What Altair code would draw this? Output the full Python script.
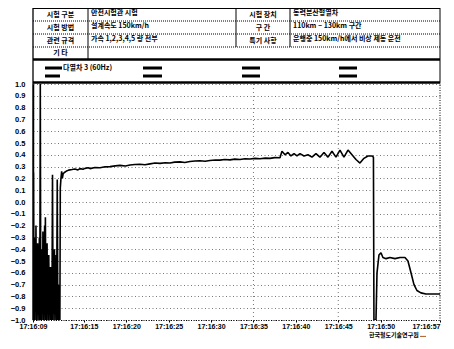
import altair as alt
import pandas as pd

# ---------------- data ----------------
t_sec = [
    0.00, 0.05, 0.10, 0.15, 0.20, 0.25, 0.30, 0.35, 0.40, 0.45,
    0.50, 0.55, 0.60, 0.65, 0.70, 0.75, 0.80, 0.86, 0.92, 0.97,
    1.02, 1.07, 1.12, 1.17, 1.22, 1.27, 1.32, 1.37, 1.42, 1.46,
    1.51, 1.56, 1.61, 1.66, 1.71, 1.76, 1.81, 1.86, 1.91, 1.96,
    2.01, 2.06, 2.11, 2.17, 2.23, 2.30, 2.37, 2.43, 2.48, 2.53,
    2.58, 2.63, 2.68, 2.73, 2.78, 2.86, 2.93, 2.99, 3.05, 3.12,
    3.17, 3.22, 3.30, 3.38, 3.46, 3.56, 3.70, 3.90, 4.20,
    4.6, 4.95, 5.3, 5.54, 5.9, 6.13, 6.5, 6.72, 7.3, 7.90,
    8.5, 9.08, 9.7, 10.26, 10.9, 11.44, 12.0, 12.62, 13.2, 13.80,
    14.4, 14.98, 15.6, 16.16, 16.7, 17.33, 17.9, 18.51, 19.1, 19.69,
    20.3, 20.87, 21.5, 22.05, 22.6, 23.23, 23.8, 24.41, 25.0, 25.59,
    26.2, 26.77, 27.4, 27.95, 28.5, 29.13,
    29.36, 29.72, 30.07, 30.42, 30.78, 31.13, 31.49, 31.96, 32.43, 32.90,
    33.37, 33.84, 34.32, 34.79, 35.26, 35.73, 36.20, 36.67, 37.15, 37.62,
    38.09, 38.56, 39.03, 39.50, 39.98, 40.15,
    40.21, 40.33, 40.45, 40.57, 40.80, 41.04, 41.27, 41.63, 42.10, 42.69,
    43.28, 43.87, 44.22, 44.58, 44.93, 45.28, 45.75, 46.34, 47.05, 48.00,
]
val = [
    -0.40, 0.25, -0.95, -0.30, -1.00, -0.45, -0.90, -0.20, -1.00, -0.50,
    -0.95, -0.35, -1.00, -0.55, -0.85, -0.30, -1.00, 1.00, -1.00, -0.60,
    -1.00, -0.40, -0.95, -0.25, -1.00, -0.55, -0.90, -0.20, -1.00, -0.13,
    -0.80, -0.40, -1.00, -0.35, -0.95, -0.50, -1.00, -0.45, -0.90, -0.60,
    -1.00, -0.55, -1.00, -0.55, -1.00, 0.23, -1.00, -0.50, -0.95, -0.40,
    -1.00, -0.60, -0.95, -0.45, -1.00, 0.19, -1.00, -0.70, -1.00, -0.85,
    -1.00, 0.12, 0.20, 0.26, 0.20, 0.24, 0.25, 0.26, 0.27,
    0.275, 0.28, 0.272, 0.283, 0.278, 0.285, 0.29, 0.283, 0.293, 0.29,
    0.298, 0.30, 0.306, 0.31, 0.305, 0.313, 0.318, 0.32, 0.315, 0.323,
    0.33, 0.327, 0.333, 0.33, 0.338, 0.34, 0.335, 0.343, 0.347, 0.35,
    0.345, 0.352, 0.356, 0.355, 0.36, 0.357, 0.363, 0.36, 0.366, 0.365,
    0.37, 0.367, 0.372, 0.37, 0.376, 0.375,
    0.43, 0.40, 0.42, 0.39, 0.41, 0.39, 0.41, 0.39, 0.40, 0.38,
    0.41, 0.38, 0.42, 0.38, 0.43, 0.38, 0.44, 0.38, 0.44, 0.40,
    0.36, 0.33, 0.37, 0.39, 0.39, 0.38,
    -1.00, -1.00, -1.00, -0.60, -0.45, -0.43, -0.47, -0.48, -0.47, -0.48,
    -0.47, -0.47, -0.50, -0.60, -0.70, -0.75, -0.77, -0.78, -0.78, -0.78,
]
assert len(t_sec) == len(val)

x_tick_secs = [0, 6, 11, 16, 21, 26, 31, 36, 41, 48]
x_tick_labels = ["17:16:09", "17:16:15", "17:16:20", "17:16:25", "17:16:30",
                 "17:16:35", "17:16:40", "17:16:45", "17:16:50", "17:16:57"]
y_ticks = [1.0, 0.9, 0.8, 0.7, 0.6, 0.5, 0.4, 0.3, 0.2, 0.1, 0.0,
           -0.1, -0.2, -0.3, -0.4, -0.5, -0.6, -0.7, -0.8, -0.9, -1.0]
vgrid_secs = [26, 36]

row_labels_left = ["시험 구분", "시험 방법", "관련 규격", "기     타"]
row_values_left = ["안전시험관 시험", "설계속도 150km/h", "가속 1,2,3,4,5 량 전부", ""]
row_labels_right = ["시험 장치", "구     간", "특기 사항"]
row_values_right = ["동력분산형열차", "110km ~ 130km 구간", "운행중 150km/h에서 비상 제동 운전"]
legend_label = "다열차 3 (60Hz)"
footer_text = "한국철도기술연구원 ..."

# ---------------- chart ----------------
W, H = 407, 236
df = pd.DataFrame({"t": t_sec, "v": val})

label_expr = ("[" + ",".join("'%s'" % s for s in x_tick_labels) + "][indexof(["
              + ",".join(str(s) for s in x_tick_secs) + "], datum.value)]")
last_tick = x_tick_secs[-1]

xscale = alt.Scale(domain=[0, 48], nice=False, zero=False)
yscale = alt.Scale(domain=[-1, 1], nice=False)

line = alt.Chart(df).mark_line(color="black", strokeWidth=1.6, strokeJoin="bevel",
                               clip=True).encode(
    x=alt.X("t:Q", scale=xscale, axis=alt.Axis(
        values=x_tick_secs, labelExpr=label_expr, title=None, grid=False,
        labelFont="Liberation Sans", labelFontSize=7, labelFontWeight="bold",
        labelColor="black", labelFlush=False, labelOverlap=False, labelPadding=0,
        labelAlign=alt.ExprRef(expr="datum.value == %d ? 'right' : 'center'" % last_tick),
        tickSize=2, tickColor="black", domainColor="black", domainDash=[1, 1.5],
        domainWidth=1)),
    y=alt.Y("v:Q", scale=yscale, axis=alt.Axis(
        values=y_ticks, format=".1f", title=None,
        labelFont="Liberation Sans", labelFontSize=7.5, labelFontWeight="bold",
        labelColor="black", labelOverlap=False, labelPadding=8, tickSize=0,
        domainColor="black", domainWidth=1.5,
        grid=True, gridColor="#555555", gridDash=[1, 2.5], gridWidth=0.8)),
)

vgrid = alt.Chart(pd.DataFrame({"t": vgrid_secs})).mark_rule(
    color="#555555", strokeDash=[1, 3], strokeWidth=0.8).encode(x=alt.X("t:Q", scale=xscale))

one = alt.Data(values=[{"a": 1}])
layers = [vgrid, line]

def hrule(x1, x2, y, w=1.0, dash=None):
    kw = dict(color="black", strokeWidth=w)
    if dash:
        kw["strokeDash"] = dash
    return alt.Chart(one).mark_rule(**kw).encode(
        x=alt.value(x1), x2=alt.value(x2), y=alt.value(y))

def vrule(x, y1, y2, w=1.0, dash=None):
    kw = dict(color="black", strokeWidth=w)
    if dash:
        kw["strokeDash"] = dash
    return alt.Chart(one).mark_rule(**kw).encode(
        x=alt.value(x), y=alt.value(y1), y2=alt.value(y2))

def txt(s, x, y, align="left", size=7, weight="bold"):
    return alt.Chart(one).mark_text(
        text=s, align=align, baseline="middle", font="Noto Sans CJK KR",
        fontSize=size, fontWeight=weight, color="black").encode(
        x=alt.value(x), y=alt.value(y))

# header table frame (decoration)
layers += [
    hrule(0, W, -76, 2),
    hrule(0, W, -63, 1, [1, 1]),
    hrule(0, W, -50, 1, [1, 1]),
    hrule(0, W, -37, 1, [1, 1]),
    hrule(0, W, -24.5, 2.5),
    hrule(0, W, -1.5, 2.5),
    vrule(0, -76, H, 1.3),
    vrule(55, -76, -24.5, 1),
    vrule(203, -76, -37, 1),
    vrule(257, -76, -37, 1),
    vrule(W, -76, -1.5, 1),
    vrule(W, -1.5, H, 1, [1, 1.5]),
]
row_y = [-69.5, -56.5, -43.5, -31]
for i, s in enumerate(row_labels_left):
    layers.append(txt(s, 27.5, row_y[i], "center"))
    if row_values_left[i]:
        layers.append(txt(row_values_left[i], 58, row_y[i] - 1.5))
for i, s in enumerate(row_labels_right):
    layers.append(txt(s, 230, row_y[i], "center"))
    layers.append(txt(row_values_right[i], 260, row_y[i] - 1.5))

# legend box entries
leg_x = [(12, 29), (110, 129), (209, 227), (306, 324)]
leg_x2 = [(12, 27), (110, 129), (209, 227), (306, 324)]
for a, b in leg_x:
    layers.append(hrule(a, b, -16, 3))
for a, b in leg_x2:
    layers.append(hrule(a, b, -8, 3))
layers.append(txt(legend_label, 30, -16.5))

layers.append(txt(footer_text, 336, 250.5, "left", 6))

chart = alt.layer(*layers).properties(
    width=W, height=H,
    autosize=alt.AutoSizeParams(type="none"),
    padding={"left": 25, "top": 76, "right": 6, "bottom": 21},
    background="white",
).configure_view(stroke=None)

chart.save("out.html", embed_options={"renderer": "svg", "actions": False})
